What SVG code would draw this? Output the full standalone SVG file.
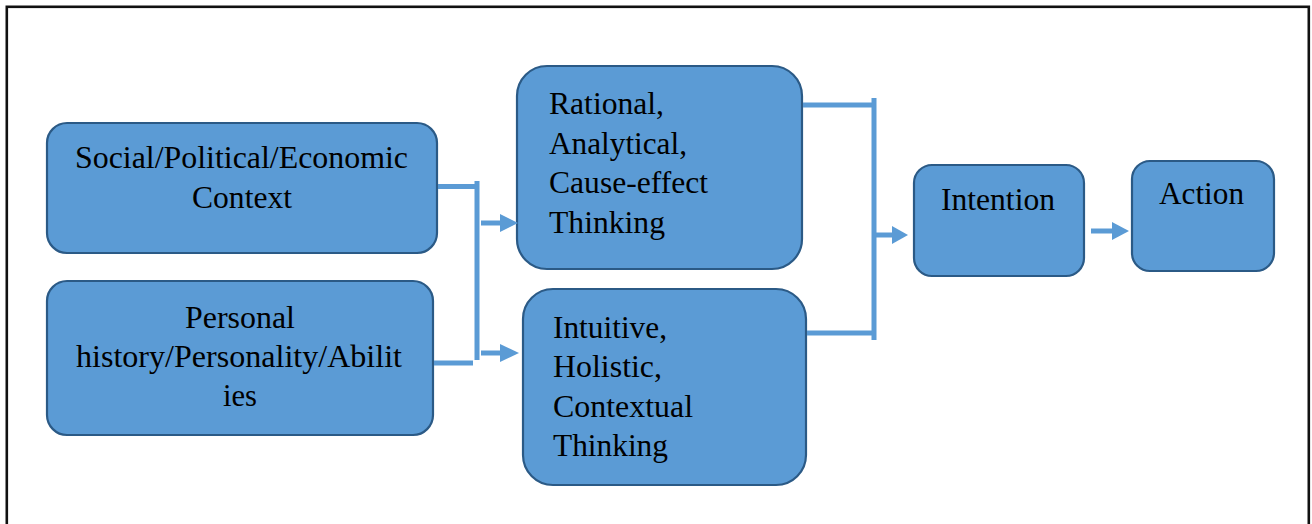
<svg xmlns="http://www.w3.org/2000/svg" width="1312" height="524" viewBox="0 0 1312 524">
<defs>
<style>
.node rect{fill:#5B9BD5;stroke:#2B5A86;stroke-width:2.2}
.node text{font-family:"Liberation Serif","Times New Roman",serif;font-size:30.5px;fill:#000}
.conn line{stroke:#5B9BD5;stroke-width:5;fill:none}
.conn polygon{fill:#5B9BD5}
</style>
</defs>
<rect x="0" y="0" width="1312" height="524" fill="#ffffff"/>
<rect x="6.8" y="6.8" width="1302" height="600" fill="none" stroke="#111" stroke-width="2.6"/>
<g id="n-social" class="node">
<rect x="47" y="123" width="390" height="130" rx="20"/>
<text x="75" y="168" textLength="333" lengthAdjust="spacingAndGlyphs">Social/Political/Economic</text>
<text x="192" y="208" textLength="100" lengthAdjust="spacingAndGlyphs">Context</text>
</g>
<g id="n-personal" class="node">
<rect x="47" y="281" width="386" height="154" rx="20"/>
<text x="185" y="328" textLength="110" lengthAdjust="spacingAndGlyphs">Personal</text>
<text x="76" y="367" textLength="326" lengthAdjust="spacingAndGlyphs">history/Personality/Abilit</text>
<text x="223" y="406" textLength="34" lengthAdjust="spacingAndGlyphs">ies</text>
</g>
<g id="n-rational" class="node">
<rect x="517" y="66" width="285" height="203" rx="30"/>
<text x="549" y="114" textLength="115" lengthAdjust="spacingAndGlyphs">Rational,</text>
<text x="549" y="154" textLength="138" lengthAdjust="spacingAndGlyphs">Analytical,</text>
<text x="549" y="193" textLength="159" lengthAdjust="spacingAndGlyphs">Cause-effect</text>
<text x="549" y="233" textLength="116" lengthAdjust="spacingAndGlyphs">Thinking</text>
</g>
<g id="n-intuitive" class="node">
<rect x="523" y="289" width="283" height="196" rx="30"/>
<text x="553" y="338" textLength="114" lengthAdjust="spacingAndGlyphs">Intuitive,</text>
<text x="553" y="377" textLength="109" lengthAdjust="spacingAndGlyphs">Holistic,</text>
<text x="553" y="417" textLength="140" lengthAdjust="spacingAndGlyphs">Contextual</text>
<text x="553" y="456" textLength="115" lengthAdjust="spacingAndGlyphs">Thinking</text>
</g>
<g id="n-intention" class="node">
<rect x="914" y="165" width="170" height="111" rx="18"/>
<text x="941" y="210" textLength="114" lengthAdjust="spacingAndGlyphs">Intention</text>
</g>
<g id="n-action" class="node">
<rect x="1132" y="161" width="142" height="110" rx="18"/>
<text x="1159" y="204" textLength="85" lengthAdjust="spacingAndGlyphs">Action</text>
</g>
<g id="connectors" class="conn">
<line x1="438" y1="186.5" x2="475" y2="186.5"/>
<line x1="434" y1="363" x2="473" y2="363"/>
<line x1="477" y1="181" x2="477" y2="360" stroke-width="6"/>
<line x1="481" y1="223" x2="502" y2="223"/>
<polygon points="500,214 518,223 500,232"/>
<line x1="481" y1="353" x2="502" y2="353"/>
<polygon points="500,344 519,353 500,362"/>
<line x1="803" y1="105" x2="873" y2="105"/>
<line x1="807" y1="333" x2="873" y2="333"/>
<line x1="874" y1="98" x2="874" y2="340" stroke-width="6"/>
<line x1="876" y1="235" x2="894" y2="235"/>
<polygon points="892,226 908,235 892,244"/>
<line x1="1091" y1="231" x2="1114" y2="231"/>
<polygon points="1112,222 1129,231 1112,240"/>
</g>
</svg>
